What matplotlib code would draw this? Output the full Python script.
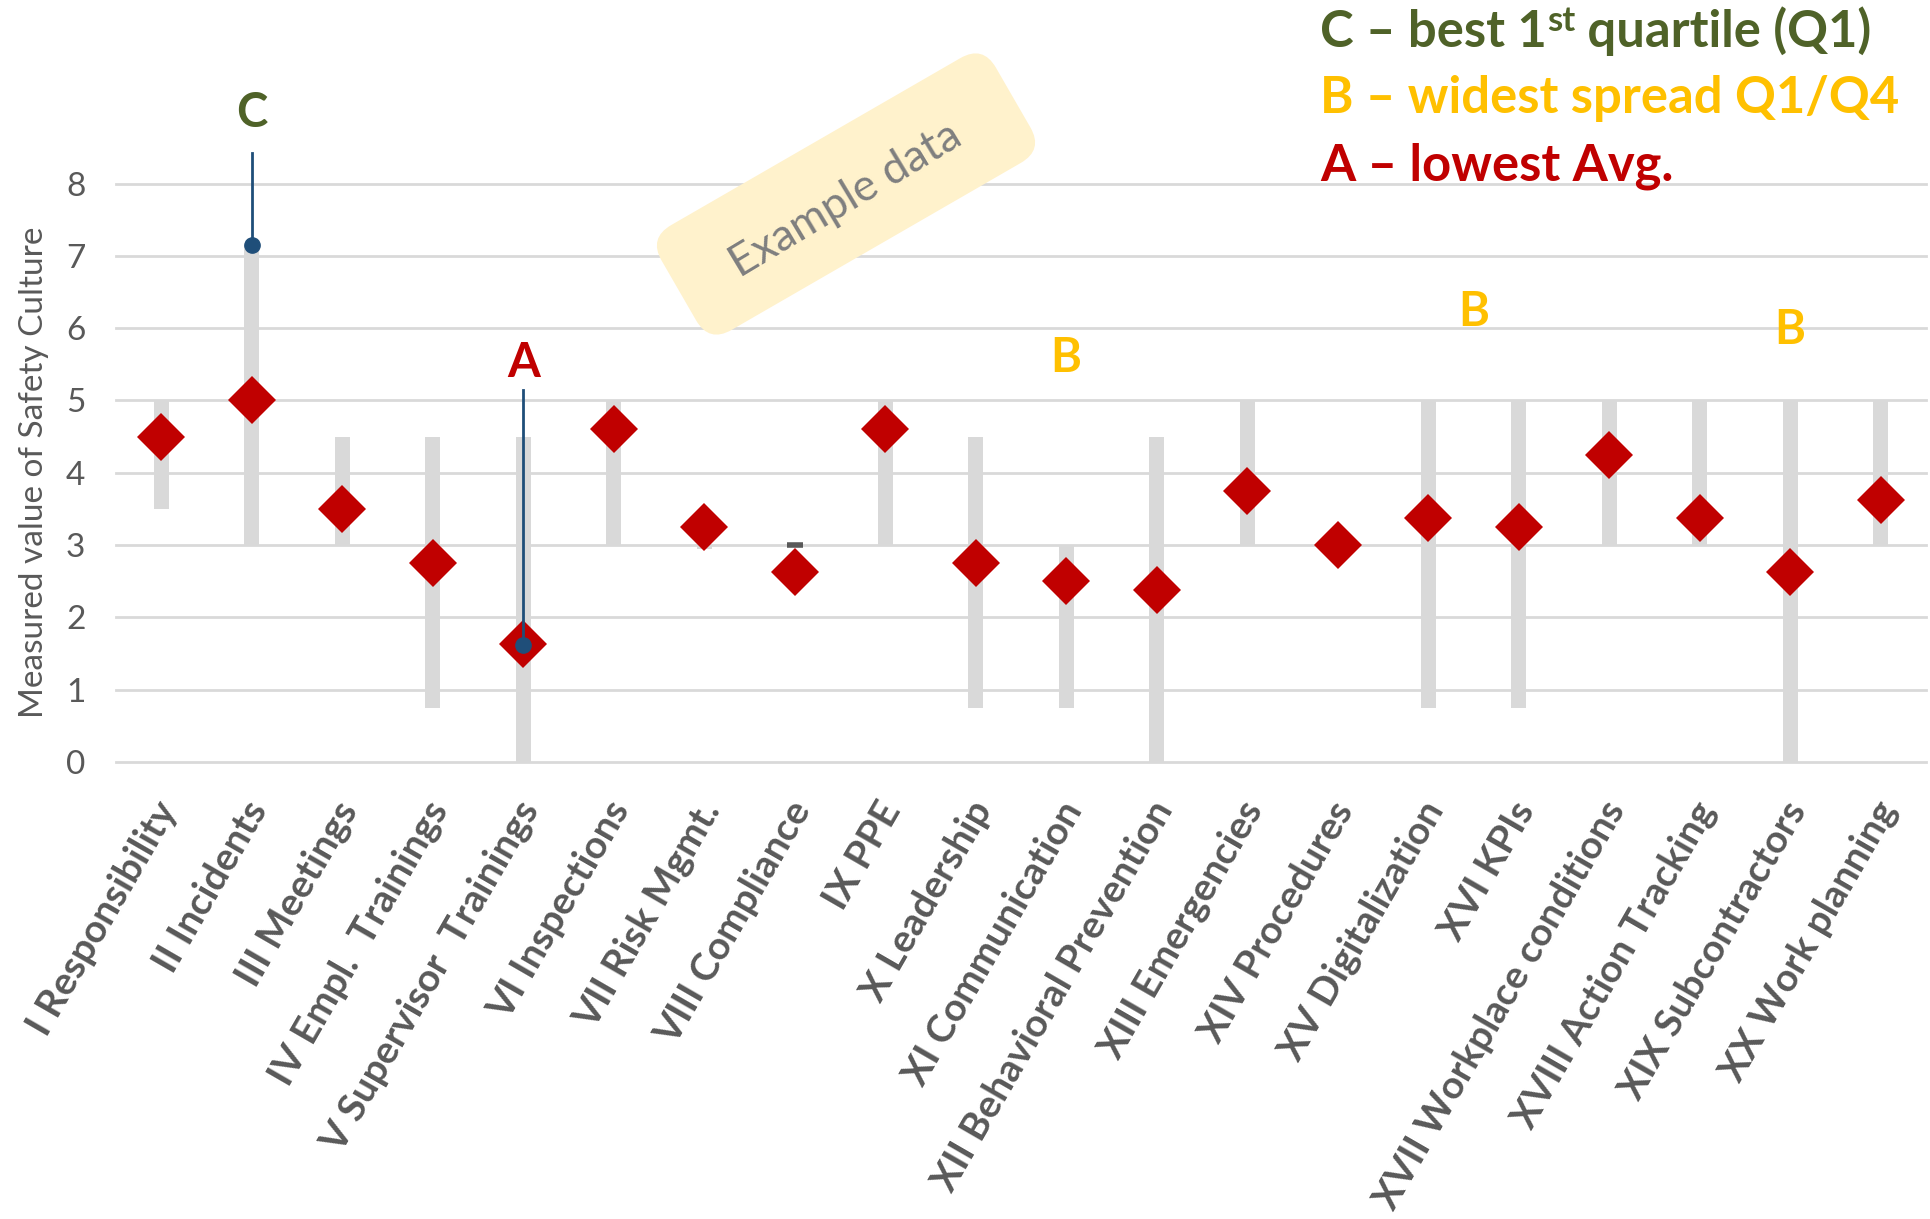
import matplotlib
matplotlib.use("Agg")
import matplotlib.pyplot as plt
from matplotlib.patches import FancyBboxPatch
from matplotlib.transforms import Affine2D, ScaledTranslation

# ---------------- data ----------------
categories = [
    "I Responsibility", "II Incidents", "III Meetings", "IV Empl.  Trainings",
    "V Supervisor  Trainings", "VI Inspections", "VII Risk Mgmt.", "VIII Compliance",
    "IX PPE", "X Leadership", "XI Communication", "XII Behavioral Prevention",
    "XIII Emergencies", "XIV Procedures", "XV Digitalization", "XVI KPIs",
    "XVII Workplace conditions", "XVIII Action Tracking", "XIX Subcontractors",
    "XX Work planning",
]
avg_values = [4.5, 5.0, 3.5, 2.75, 1.625, 4.6, 3.25, 2.625, 4.6, 2.75,
              2.5, 2.375, 3.75, 3.0, 3.375, 3.25, 4.25, 3.375, 2.625, 3.625]
range_low = [3.5, 3.0, 3.0, 0.75, 0.0, 3.0, 2.95, 3.0, 3.0, 0.75,
             0.75, 0.0, 3.0, 3.0, 0.75, 0.75, 3.0, 3.0, 0.0, 3.0]
range_high = [5.0, 7.15, 4.5, 4.5, 4.5, 5.0, 3.0, 3.0, 5.0, 4.5,
              3.0, 4.5, 5.0, 3.0, 5.0, 5.0, 5.0, 5.0, 5.0, 5.0]
dash_index = [7]
dash_values = [3.0]

yticks = [0, 1, 2, 3, 4, 5, 6, 7, 8]
y_label = "Measured value of Safety Culture"

ann_labels = ["C", "A", "B", "B", "B"]
ann_x = [1, 4, 10, 14.5, 18]
ann_y = [8.97, 5.52, 5.58, 6.22, 5.97]
ann_colors = ["#4F6228", "#C00000", "#FFC000", "#FFC000", "#FFC000"]

callout_x = [1, 4]
callout_top = [8.42, 5.15]
callout_dot = [7.15, 1.62]

legend_lines = [
    ("C – best 1", "st", " quartile (Q1)", "#4F6228"),
    ("B – widest spread Q1/Q4", "", "", "#FFC000"),
    ("A – lowest Avg.", "", "", "#C00000"),
]
watermark = "Example data"

# ---------------- figure ----------------
W, H, DPI = 1931, 1219, 100
fig = plt.figure(figsize=(W / DPI, H / DPI), dpi=DPI)
plt.rcParams["font.family"] = ["Lato", "DejaVu Sans"]

ax = fig.add_axes([116 / W, 1 - 762 / H, (1926 - 116) / W, (762 - 183.5) / H])
x = list(range(len(categories)))
ax.set_xlim(-0.5, len(categories) - 0.5)
ax.set_ylim(0, 8)

grey = "#D9D9D9"
txt_grey = "#595959"

ax.set_yticks(yticks)
ax.grid(axis="y", color=grey, lw=2.0, zorder=0)
for gl in ax.get_ygridlines():
    gl.set_clip_on(False)
ax.set_axisbelow(True)
for s in ax.spines.values():
    s.set_visible(False)

heights = [h - l for h, l in zip(range_high, range_low)]
ax.bar(x, heights, bottom=range_low, width=0.17, color=grey, zorder=2)
ax.plot([x[i] for i in dash_index], dash_values, marker="_", ls="none",
        color=txt_grey, markersize=12, mew=4, zorder=3)
ax.plot(x, avg_values, ls="none", marker="D", markersize=24.5, color="#C00000",
        mew=0, zorder=4, clip_on=False)

for cx, top, dot in zip(callout_x, callout_top, callout_dot):
    ax.plot([cx, cx], [top, dot], color="#1F4E79", lw=2, zorder=5, clip_on=False)
    ax.plot([cx], [dot], marker="o", markersize=11, color="#1F4E79", zorder=6,
            clip_on=False)

for lab, lx, ly, c in zip(ann_labels, ann_x, ann_y, ann_colors):
    ax.text(lx, ly, lab, color=c, fontsize=34, fontweight="bold",
            ha="center", va="center", zorder=6, clip_on=False)

ax.tick_params(axis="both", length=0)
ax.tick_params(axis="y", labelsize=24, labelcolor=txt_grey, pad=22)
ax.set_ylabel(y_label, fontsize=24, color=txt_grey, labelpad=12)

ax.set_xticks(x)
ax.set_xticklabels(categories, rotation=60, ha="right", va="top",
                   rotation_mode="anchor", fontsize=28, fontweight="bold",
                   color=txt_grey)
ax.tick_params(axis="x", pad=24)
off = ScaledTranslation(-8 / DPI, 0, fig.dpi_scale_trans)
for lbl in ax.get_xticklabels():
    lbl.set_transform(lbl.get_transform() + off)

# watermark box
cx_in, cy_in = 846 / DPI, (H - 194) / DPI
bw, bh = 386 / DPI, 121 / DPI
box = FancyBboxPatch((cx_in - bw / 2, cy_in - bh / 2), bw, bh,
                     boxstyle="round,pad=0,rounding_size=0.26",
                     facecolor="#FFF2CC", edgecolor="none", zorder=10)
box.set_transform(Affine2D().rotate_deg_around(cx_in, cy_in, 30) + fig.dpi_scale_trans)
fig.add_artist(box)
fig.text(cx_in * DPI / W, 1 - 200 / H, watermark, rotation=31, fontsize=32,
         color="#7F7F7F", ha="center", va="center", rotation_mode="anchor",
         zorder=11)

# legend text
renderer = fig.canvas.get_renderer()
baselines = [47, 113, 180]
for (main, sup, rest, col), bl in zip(legend_lines, baselines):
    y = 1 - bl / H
    t = fig.text(1320 / W, y, main, color=col, fontsize=36.5, fontweight="bold",
                 va="baseline", ha="left")
    if sup:
        bb = t.get_window_extent(renderer)
        t2 = fig.text(bb.x1 / W, y + 16 / H, sup, color=col, fontsize=25,
                      fontweight="bold", va="baseline", ha="left")
        bb2 = t2.get_window_extent(renderer)
        fig.text(bb2.x1 / W, y, rest, color=col, fontsize=36.5, fontweight="bold",
                 va="baseline", ha="left")

fig.savefig("out.png", dpi=DPI, facecolor="white")
